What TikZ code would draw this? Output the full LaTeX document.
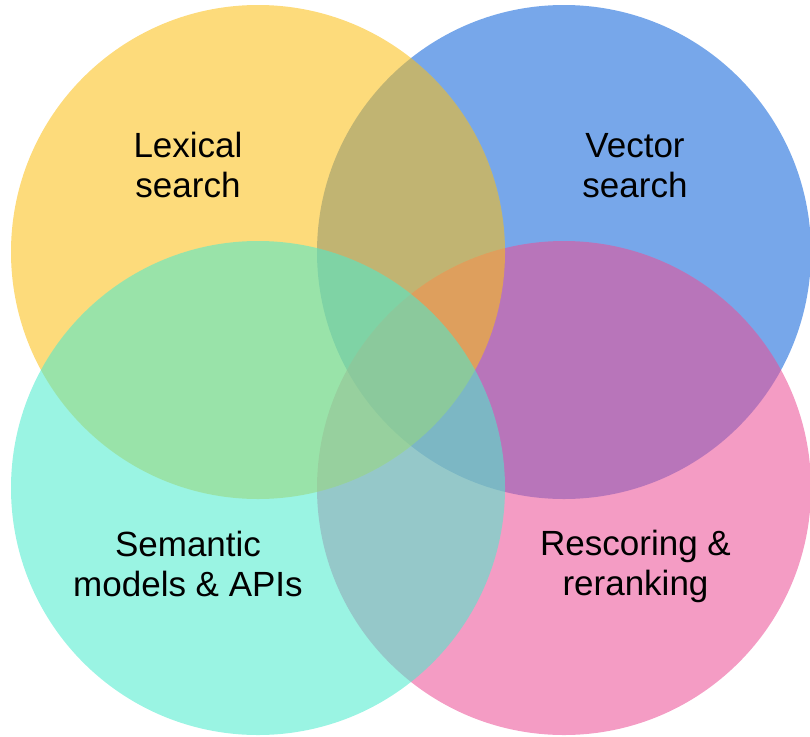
\documentclass[tikz,border=0pt]{standalone}
\usepackage{fontspec}
\setmainfont{Liberation Sans}
\definecolor{cyellow}{RGB}{251,191,22}
\definecolor{cblue}{RGB}{15,100,218}
\definecolor{cteal}{RGB}{77,235,205}
\definecolor{cpink}{RGB}{235,79,150}
\begin{document}
\begin{tikzpicture}[x=1pt,y=-1pt,
  venn/.style={fill opacity=0.563},
  lbl/.style={anchor=base,inner sep=0pt,text=black,font=\fontsize{35}{40}\selectfont}]
\useasboundingbox (0,0) rectangle (810,736);
\fill[venn,cblue] (564,252) circle[radius=247];
\fill[venn,cpink] (564,488) circle[radius=247];
\fill[venn,cyellow] (258,252) circle[radius=247];
\fill[venn,cteal] (258,488) circle[radius=247];
\node[lbl] (lexA) at (188,157) {Lexical};
\node[lbl] (lexB) at (188,197) {search};
\node[lbl] (vecA) at (635,157) {Vector};
\node[lbl] (vecB) at (635,197) {search};
\node[lbl] (semA) at (188,556) {Semantic};
\node[lbl] (semB) at (188,596) {models \& APIs};
\node[lbl] (resA) at (635.5,555) {Rescoring \&};
\node[lbl] (resB) at (635.5,595) {reranking};
\end{tikzpicture}
\end{document}
